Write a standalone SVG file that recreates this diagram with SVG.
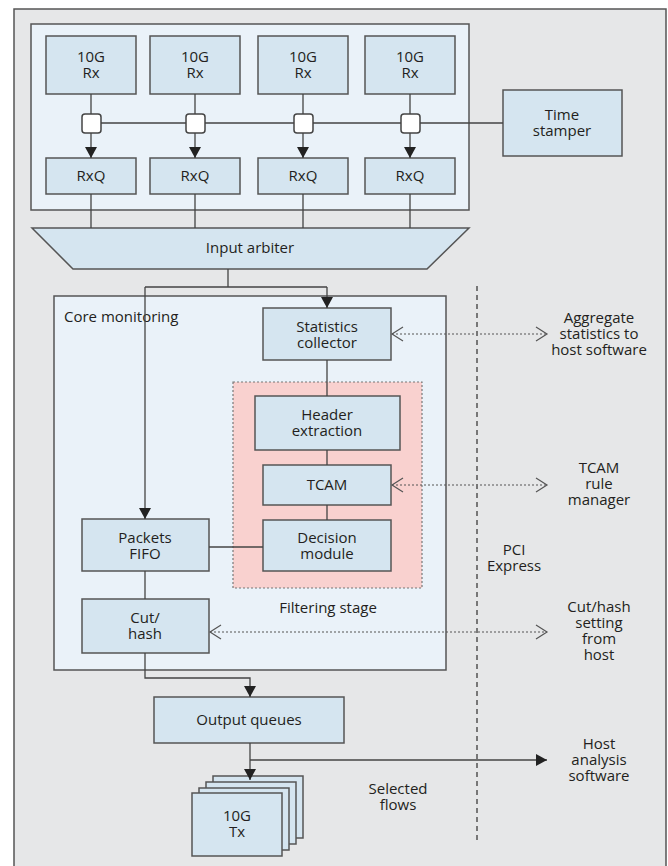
<svg xmlns="http://www.w3.org/2000/svg" width="668" height="866" viewBox="0 0 668 866">
  <style>
    .panel { fill: #e6e7e8; stroke: #555; stroke-width: 1.5; }
    .inner { fill: #eaf2f9; stroke: #555; stroke-width: 1.5; }
    .box { fill: #d5e5f0; stroke: #555; stroke-width: 1.5; }
    .tap { fill: #fff; stroke: #444; stroke-width: 1.5; }
    .filter { fill: #f9d1cf; stroke: #777; stroke-width: 1.2; stroke-dasharray: 2 2; }
    text { font-family: "Open Sans", "Liberation Sans", sans-serif; font-size: 15px; fill: #231f20; text-anchor: middle; }
    .wire { fill: none; stroke: #444; stroke-width: 1.3; }
    .flow { fill: none; stroke: #444; stroke-width: 1.3; marker-end: url(#solid); }
    .ctrl { fill: none; stroke: #555; stroke-width: 1.2; stroke-dasharray: 2 2; marker-start: url(#open); marker-end: url(#open); }
    .bus { fill: none; stroke: #777; stroke-width: 2; stroke-dasharray: 5 4; }
  </style>
  <defs>
    <marker id="solid" markerUnits="userSpaceOnUse" markerWidth="12" markerHeight="12" refX="11" refY="6" orient="auto">
      <path d="M0,0 L11,6 L0,12 z" fill="#222"/>
    </marker>
    <marker id="open" markerUnits="userSpaceOnUse" markerWidth="14" markerHeight="16" refX="12" refY="8" orient="auto-start-reverse">
      <path d="M1,1 L12,8 L1,15" fill="none" stroke="#555" stroke-width="1.2"/>
    </marker>
  </defs>

  <!-- board background -->
  <rect class="panel" x="14" y="9" width="652" height="870"/>

  <!-- receive section -->
  <g id="rx-section">
    <rect class="inner" x="31" y="24" width="438" height="186"/>
  </g>

  <!-- core monitoring section -->
  <g id="core-monitoring">
    <rect class="inner" x="54" y="296" width="392" height="374"/>
    <text x="64" y="322" style="text-anchor:start">Core monitoring</text>
  </g>

  <g id="filtering-stage">
    <rect class="filter" x="233" y="382" width="189" height="206"/>
    <text x="328" y="613">Filtering stage</text>
  </g>

  <!-- receive ports -->
  <g id="rx1"><rect class="box" x="46" y="36" width="90" height="58"/><text x="91" y="62">10G<tspan x="91" dy="16">Rx</tspan></text></g>
  <g id="rx2"><rect class="box" x="150" y="36" width="90" height="58"/><text x="195" y="62">10G<tspan x="195" dy="16">Rx</tspan></text></g>
  <g id="rx3"><rect class="box" x="258" y="36" width="90" height="58"/><text x="303" y="62">10G<tspan x="303" dy="16">Rx</tspan></text></g>
  <g id="rx4"><rect class="box" x="365" y="36" width="90" height="58"/><text x="410" y="62">10G<tspan x="410" dy="16">Rx</tspan></text></g>

  <!-- receive queues -->
  <g id="rxq1"><rect class="box" x="46" y="158" width="90" height="36"/><text x="91" y="181">RxQ</text></g>
  <g id="rxq2"><rect class="box" x="150" y="158" width="90" height="36"/><text x="195" y="181">RxQ</text></g>
  <g id="rxq3"><rect class="box" x="258" y="158" width="90" height="36"/><text x="303" y="181">RxQ</text></g>
  <g id="rxq4"><rect class="box" x="365" y="158" width="90" height="36"/><text x="410" y="181">RxQ</text></g>

  <g id="time-stamper"><rect class="box" x="503" y="90" width="119" height="66"/><text x="562" y="120">Time<tspan x="562" dy="16">stamper</tspan></text></g>

  <g id="input-arbiter">
    <polygon class="box" points="32,228 469,228 427,269 73,269"/>
    <text x="250" y="253">Input arbiter</text>
  </g>

  <g id="statistics-collector"><rect class="box" x="263" y="308" width="128" height="52"/><text x="327" y="332">Statistics<tspan x="327" dy="16">collector</tspan></text></g>
  <g id="header-extraction"><rect class="box" x="255" y="396" width="145" height="54"/><text x="327" y="420">Header<tspan x="327" dy="16">extraction</tspan></text></g>
  <g id="tcam"><rect class="box" x="263" y="465" width="128" height="40"/><text x="327" y="490">TCAM</text></g>
  <g id="decision-module"><rect class="box" x="263" y="520" width="128" height="51"/><text x="327" y="543">Decision<tspan x="327" dy="16">module</tspan></text></g>
  <g id="packets-fifo"><rect class="box" x="82" y="519" width="127" height="52"/><text x="145" y="543">Packets<tspan x="145" dy="16">FIFO</tspan></text></g>
  <g id="cut-hash"><rect class="box" x="82" y="599" width="127" height="54"/><text x="145" y="623">Cut/<tspan x="145" dy="16">hash</tspan></text></g>

  <g id="output-queues"><rect class="box" x="154" y="697" width="190" height="46"/><text x="249" y="725">Output queues</text></g>

  <g id="tx">
    <rect class="box" x="213" y="776" width="90" height="62"/>
    <rect class="box" x="206" y="782" width="90" height="62"/>
    <rect class="box" x="199" y="788" width="90" height="62"/>
    <rect class="box" x="192" y="793" width="90" height="63"/>
    <text x="237" y="821">10G<tspan x="237" dy="16">Tx</tspan></text>
  </g>

  <!-- external endpoints and notes -->
  <g id="aggregate-stats"><text x="599" y="323">Aggregate<tspan x="599" dy="16">statistics to</tspan><tspan x="599" dy="16">host software</tspan></text></g>
  <g id="tcam-rule-manager"><text x="599" y="473">TCAM<tspan x="599" dy="16">rule</tspan><tspan x="599" dy="16">manager</tspan></text></g>
  <g id="cut-hash-setting"><text x="599" y="612">Cut/hash<tspan x="599" dy="16">setting</tspan><tspan x="599" dy="16">from</tspan><tspan x="599" dy="16">host</tspan></text></g>
  <g id="host-analysis"><text x="599" y="749">Host<tspan x="599" dy="16">analysis</tspan><tspan x="599" dy="16">software</tspan></text></g>
  <g id="pci-label"><text x="514" y="555">PCI<tspan x="514" dy="16">Express</tspan></text></g>
  <g id="selected-flows"><text x="398" y="794">Selected<tspan x="398" dy="16">flows</tspan></text></g>

  <!-- connectors -->
  <g id="connectors">
    <!-- Rx to taps -->
    <path class="wire" d="M91,94 V114 M195,94 V114 M303,94 V114 M410,94 V114"/>
    <!-- timestamp bus -->
    <path class="wire" d="M101,123 H186 M205,123 H294 M313,123 H401 M420,123 H503"/>
    <!-- taps to RxQ -->
    <path class="flow" d="M91,133 V158"/>
    <path class="flow" d="M195,133 V158"/>
    <path class="flow" d="M303,133 V158"/>
    <path class="flow" d="M410,133 V158"/>
    <!-- RxQ to arbiter -->
    <path class="wire" d="M91,194 V228 M195,194 V228 M303,194 V228 M410,194 V228"/>
    <!-- arbiter split -->
    <path class="wire" d="M228,269 V287 M145,287 H327"/>
    <path class="flow" d="M327,287 V308"/>
    <path class="flow" d="M145,287 V519"/>
    <!-- filtering chain -->
    <path class="wire" d="M327,360 V396 M327,450 V465 M327,505 V520"/>
    <path class="wire" d="M209,547 H263"/>
    <path class="wire" d="M145,571 V599"/>
    <!-- to output -->
    <path class="flow" d="M145,653 V678 H250 V697"/>
    <path class="flow" d="M250,743 V780"/>
    <path class="flow" d="M250,760 H547"/>
    <!-- host control links -->
    <path class="ctrl" d="M392,334 H547"/>
    <path class="ctrl" d="M392,485 H547"/>
    <path class="ctrl" d="M210,632 H547"/>
    <!-- PCI Express boundary -->
    <path class="bus" d="M477,286 V841"/>
  </g>

  <!-- timestamp taps (sit on top of the bus wires) -->
  <g id="tap1"><rect class="tap" x="82" y="114" width="19" height="19" rx="3"/></g>
  <g id="tap2"><rect class="tap" x="186" y="114" width="19" height="19" rx="3"/></g>
  <g id="tap3"><rect class="tap" x="294" y="114" width="19" height="19" rx="3"/></g>
  <g id="tap4"><rect class="tap" x="401" y="114" width="19" height="19" rx="3"/></g>
</svg>
